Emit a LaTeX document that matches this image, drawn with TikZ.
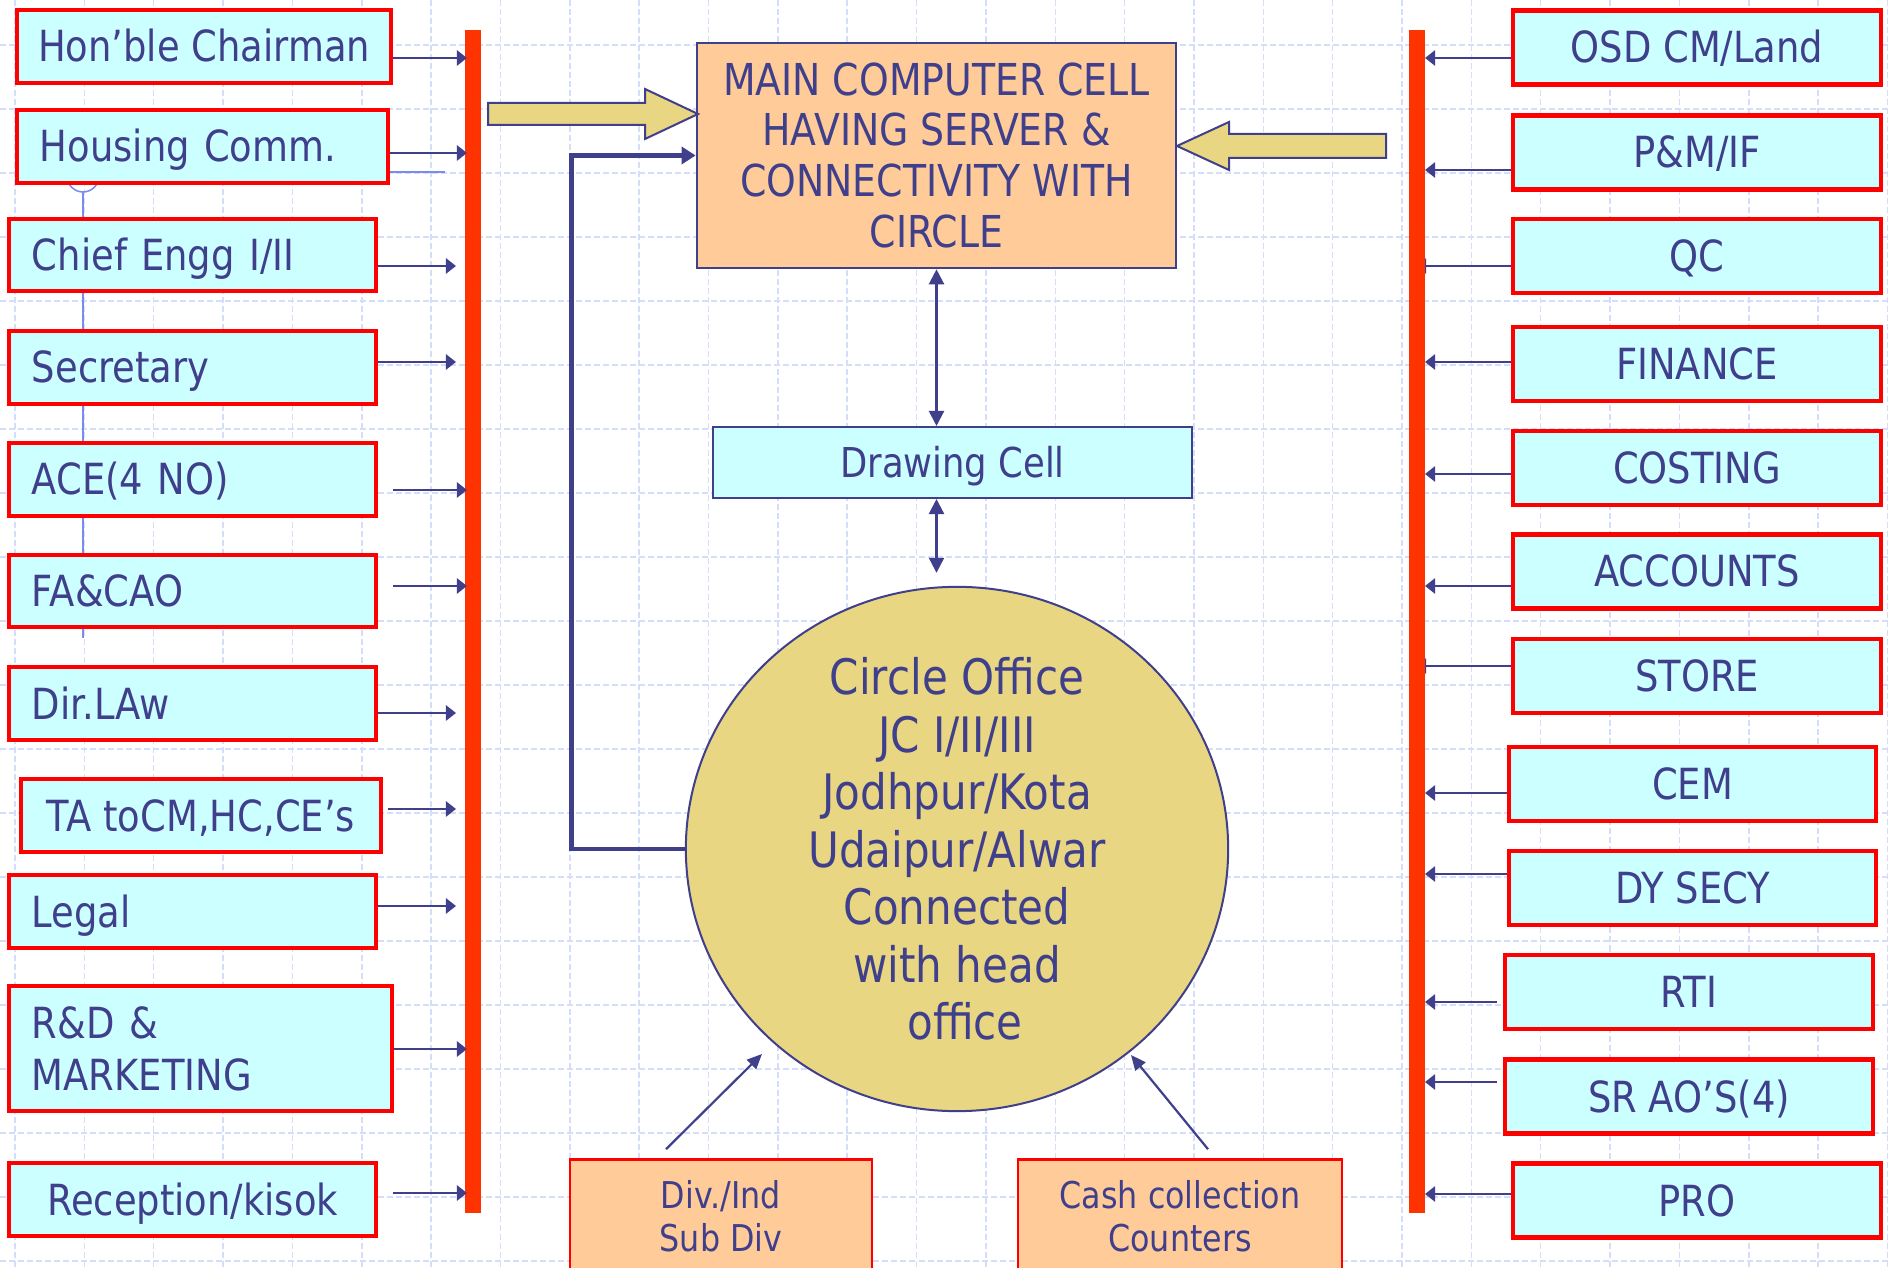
\documentclass[tikz,border=0pt]{standalone}
\usepackage{fontspec}
\setmainfont{DejaVu Sans}[FakeStretch=0.86]
\usetikzlibrary{arrows.meta,shapes.geometric,calc}
\definecolor{tblue}{HTML}{3F3F8C}
\definecolor{cyanf}{HTML}{CCFFFF}
\definecolor{boxred}{HTML}{FF0000}
\definecolor{barred}{HTML}{FF3300}
\definecolor{peach}{HTML}{FFCC99}
\definecolor{ylw}{HTML}{E8D682}
\definecolor{gridc}{HTML}{D4DEFA}
\definecolor{faint}{HTML}{7A8CEB}
\begin{document}
\begin{tikzpicture}[x=0.01cm,y=-0.01cm,
  gridl/.style={draw=gridc, line width=0.015cm, dash pattern=on 0.06cm off 0.03cm},
  sidebox/.style={draw=boxred, line width=0.045cm, fill=cyanf, text=tblue, inner sep=0pt,
     minimum height=0.725cm, font=\fontsize{12.2pt}{14.8pt}\selectfont},
  oneline/.style={text height=0.31cm, text depth=0pt},
  lbox/.style={sidebox, oneline, minimum width=3.665cm, text width=3.21cm, inner xsep=0.2275cm, align=left},
  cbox/.style={sidebox, oneline, minimum width=3.665cm, align=center},
  rbox/.style={sidebox, oneline, minimum width=3.675cm, minimum height=0.74cm, align=center},
  barst/.style={fill=barred, inner sep=0pt, outer sep=0pt, minimum width=0.16cm, minimum height=11.83cm},
  larr/.style={draw=tblue, line width=0.025cm, -{Triangle[length=0.1cm,width=0.15cm]}},
  yarrow/.style={draw=tblue, line width=0.02cm, fill=ylw, line join=miter},
  brk/.style={draw=tblue, line width=0.045cm, -{Triangle[length=0.14cm,width=0.17cm]}},
  darr/.style={draw=tblue, line width=0.022cm, {Triangle[length=0.15cm,width=0.15cm]}-{Triangle[length=0.15cm,width=0.15cm]}},
  barr/.style={draw=tblue, line width=0.022cm, -{Triangle[length=0.15cm,width=0.13cm]}},
  botbox/.style={draw=boxred, line width=0.025cm, fill=peach, text=tblue, minimum height=1.13cm,
     align=center, inner sep=0pt, font=\fontsize{10.5pt}{12.2pt}\selectfont}
]
\useasboundingbox (0,0) rectangle (1891,1268);
\clip (0,0) rectangle (1891,1268);
\fill[white] (0,0) rectangle (1891,1268);
% grid
\foreach \k in {0,...,27} \draw[gridl] ({15+69.35*\k},0) -- ({15+69.35*\k},1268);
\foreach \k in {0,...,19} \draw[gridl] (0,{45+64*\k}) -- (1891,{45+64*\k});
% faint stray lines
\draw[faint, line width=0.015cm] (83,176) circle[radius=0.16cm];
\draw[faint, line width=0.015cm] (83,192) -- (83,638);
\draw[faint, line width=0.015cm] (390,172) -- (445,172);

% left boxes
\node[cbox, minimum width=3.735cm] (hc) at (204,46.5) {Hon’ble Chairman};
\node[lbox, minimum width=3.705cm, text width=3.25cm] (hs) at (202.5,146.5) {Housing Comm.};
\node[lbox, minimum height=0.715cm] (ce) at (192.5,255) {Chief Engg I/II};
\node[lbox] (sc) at (192.5,367.5) {Secretary};
\node[lbox] (ac) at (192.5,479.5) {ACE(4 NO)};
\node[lbox, minimum height=0.715cm] (fa) at (192.5,591) {FA\&CAO};
\node[lbox] (dl) at (192.5,703.5) {Dir.LAw};
\node[cbox, minimum width=3.595cm] (ta) at (201,815.5) {TA toCM,HC,CE’s};
\node[lbox] (lg) at (192.5,911.5) {Legal};
\node[sidebox, minimum width=3.825cm, minimum height=1.245cm, text width=3.37cm, inner xsep=0.2275cm, align=left] (rd) at (200.5,1048.5) {R\&D \&\\MARKETING};
\node[cbox] (rc) at (192.5,1199.5) {Reception/kisok};

% right boxes
\node[rbox] (osd) at (1697,47.5) {OSD CM/Land};
\node[rbox] (pm) at (1697,152.5) {P\&M/IF};
\node[rbox] (qc) at (1697,256) {QC};
\node[rbox] (fin) at (1697,364) {FINANCE};
\node[rbox] (cost) at (1697,468) {COSTING};
\node[rbox] (acc) at (1697,571.5) {ACCOUNTS};
\node[rbox] (st) at (1697,676) {STORE};
\node[rbox, minimum width=3.665cm] (cem) at (1692.5,784) {CEM};
\node[rbox, minimum width=3.665cm] (dy) at (1692.5,888) {DY SECY};
\node[rbox] (rti) at (1689,992) {RTI};
\node[rbox] (sr) at (1689,1096.5) {SR AO’S(4)};
\node[rbox] (pro) at (1697,1200.5) {PRO};

% arrows behind right bar
\draw[larr, shorten >=0.07cm] (qc.west |- 0,266) -- (1409,266);
\draw[larr, shorten >=0.07cm] (st.west |- 0,666) -- (1409,666);

% bars
\node[barst] (lbar) at (473,621.5) {};
\node[barst] (rbar) at (1417,621.5) {};

% left arrows
\draw[larr, shorten >=-0.02cm] (hc.east |- 0,58) -- (lbar.west |- 0,58);
\draw[larr, shorten >=-0.02cm] (hs.east |- 0,153) -- (lbar.west |- 0,153);
\draw[larr, shorten >=0.09cm] (ce.east |- 0,266) -- (lbar.west |- 0,266);
\draw[larr, shorten >=0.09cm] (sc.east |- 0,362) -- (lbar.west |- 0,362);
\draw[larr, shorten <=0.15cm, shorten >=-0.02cm] (ac.east |- 0,490) -- (lbar.west |- 0,490);
\draw[larr, shorten <=0.15cm, shorten >=-0.02cm] (fa.east |- 0,586) -- (lbar.west |- 0,586);
\draw[larr, shorten >=0.09cm] (dl.east |- 0,713) -- (lbar.west |- 0,713);
\draw[larr, shorten <=0.05cm, shorten >=0.09cm] (ta.east |- 0,809) -- (lbar.west |- 0,809);
\draw[larr, shorten >=0.09cm] (lg.east |- 0,906) -- (lbar.west |- 0,906);
\draw[larr, shorten >=-0.02cm] (rd.east |- 0,1049) -- (lbar.west |- 0,1049);
\draw[larr, shorten <=0.15cm, shorten >=-0.02cm] (rc.east |- 0,1193) -- (lbar.west |- 0,1193);

% right arrows
\draw[larr] (osd.west |- 0,58) -- (rbar.east |- 0,58);
\draw[larr] (pm.west |- 0,170) -- (rbar.east |- 0,170);
\draw[larr] (fin.west |- 0,362) -- (rbar.east |- 0,362);
\draw[larr] (cost.west |- 0,474) -- (rbar.east |- 0,474);
\draw[larr] (acc.west |- 0,586) -- (rbar.east |- 0,586);
\draw[larr] (cem.west |- 0,793) -- (rbar.east |- 0,793);
\draw[larr] (dy.west |- 0,874) -- (rbar.east |- 0,874);
\draw[larr, shorten <=0.06cm] (rti.west |- 0,1002) -- (rbar.east |- 0,1002);
\draw[larr, shorten <=0.06cm] (sr.west |- 0,1082) -- (rbar.east |- 0,1082);
\draw[larr] (pro.west |- 0,1194) -- (rbar.east |- 0,1194);

% middle
\node[draw=tblue, line width=0.025cm, fill=peach, text=tblue, minimum width=4.79cm, minimum height=2.25cm,
  align=center, inner sep=0pt, font=\fontsize{12.5pt}{14.5pt}\selectfont] (mc) at (936.5,155.5)
  {MAIN COMPUTER CELL\\HAVING SERVER \&\\CONNECTIVITY WITH\\CIRCLE};
\node[draw=tblue, line width=0.025cm, fill=cyanf, text=tblue, minimum width=4.785cm, minimum height=0.705cm,
  inner sep=0pt, text height=0.30cm, text depth=0pt, font=\fontsize{11.7pt}{14pt}\selectfont] (dc) at (952.5,462.5) {Drawing Cell};
\node[ellipse, draw=tblue, line width=0.02cm, fill=ylw, text=tblue, minimum width=5.42cm, minimum height=5.24cm,
  inner xsep=0pt, inner ysep=-0.8cm, align=center, font=\fontsize{13.9pt}{16.35pt}\selectfont] (co) at (957,849)
  {Circle Office\\JC I/II/III\\Jodhpur/Kota\\Udaipur/Alwar\\Connected\\with head\\\hspace*{0.16cm}office};

% yellow block arrows
\draw[yarrow] (488,103) -- (645,103) -- (645,89) -- (698,114) -- (645,139) -- (645,125) -- (488,125) -- cycle;
\draw[yarrow] (1386,134) -- (1229,134) -- (1229,122) -- (1177,146) -- (1229,170) -- (1229,158) -- (1386,158) -- cycle;

% bracket from circle to main cell
\draw[brk] (co.west) -| ([xshift=-1.24cm]mc.west) -- (mc.west);

% double arrows
\draw[darr] (mc.south) -- (dc.north -| mc.south);
\draw[darr, shorten >=0.13cm] (dc.south -| mc.south) -- (co.north -| mc.south);

% bottom boxes
\node[botbox, minimum width=3.015cm] (dv) at (721,1216) {Div./Ind\\Sub Div};
\node[botbox, minimum width=3.235cm] (cc) at (1180,1216) {Cash collection\\Counters};
\coordinate (t1) at (762,1054);
\coordinate (t2) at (1131,1055);
\draw[barr] ([xshift=-0.55cm,yshift=0.09cm]dv.north) -- (t1);
\draw[barr] ([xshift=0.28cm,yshift=0.09cm]cc.north) -- (t2);
\end{tikzpicture}
\end{document}
